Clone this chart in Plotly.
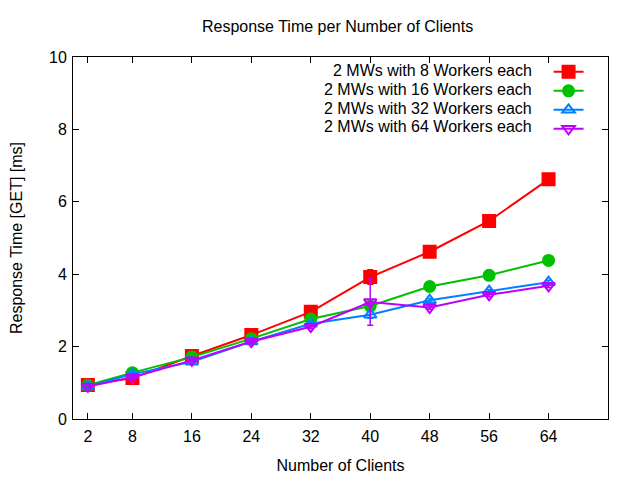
import plotly.graph_objects as go

# Number of clients on the x axis
clients = [2, 8, 16, 24, 32, 40, 48, 56, 64]

# Mean response time [ms] per configuration
mw8 = [0.94, 1.13, 1.74, 2.32, 2.96, 3.92, 4.62, 5.47, 6.62]
mw16 = [0.93, 1.28, 1.71, 2.22, 2.76, 3.12, 3.66, 3.97, 4.38]
mw32 = [0.90, 1.24, 1.58, 2.14, 2.63, 2.88, 3.28, 3.53, 3.78]
mw64 = [0.90, 1.15, 1.62, 2.14, 2.55, 3.23, 3.08, 3.43, 3.68]

# Standard deviations (error bars)
mw8_err = [0.03, 0.04, 0.04, 0.04, 0.05, 0.20, 0.05, 0.05, 0.05]
mw16_err = [0.03, 0.04, 0.04, 0.04, 0.05, 0.06, 0.05, 0.05, 0.05]
mw32_err = [0.03, 0.04, 0.04, 0.04, 0.05, 0.10, 0.05, 0.05, 0.05]
mw64_err = [0.03, 0.04, 0.04, 0.04, 0.05, 0.64, 0.05, 0.05, 0.05]

series_names = [
    "2 MWs with 8 Workers each",
    "2 MWs with 16 Workers each",
    "2 MWs with 32 Workers each",
    "2 MWs with 64 Workers each",
]

y_ticks = [0, 2, 4, 6, 8, 10]

FONT = "Liberation Sans, Arial, sans-serif"

styles = [
    ("#ff0000", "square", 12),
    ("#00c000", "circle", 11),
    ("#0080ff", "triangle-up-open", 11),
    ("#c000ff", "triangle-down-open", 11),
]

fig = go.Figure()

for ys, errs, (color, sym, size) in zip([mw8, mw16, mw32, mw64],
                                        [mw8_err, mw16_err, mw32_err, mw64_err],
                                        styles):
    fig.add_trace(go.Scatter(
        x=clients, y=ys,
        mode="lines+markers",
        name="",
        line=dict(color=color, width=2),
        marker=dict(symbol=sym, size=size, color=color,
                    line=dict(color=color, width=2)),
        error_y=dict(type="data", array=errs, visible=True,
                     color=color, thickness=1.5, width=3),
    ))

# key labels, right aligned left of the legend samples (gnuplot style)
row_y = [0.963, 0.911, 0.859, 0.807]
for name, yy in zip(series_names, row_y):
    fig.add_annotation(text=name, xref="paper", yref="paper",
                       x=0.862, y=yy, xanchor="right", yanchor="middle",
                       showarrow=False, font=dict(family=FONT, size=16, color="black"))

# page body has an 8px margin, so the figure is 8px smaller than the window
fig.update_layout(
    width=632, height=472,
    margin=dict(l=65, r=32, t=49, b=61),
    paper_bgcolor="white", plot_bgcolor="white",
    font=dict(family=FONT, size=16, color="black"),
    title=dict(text="Response Time per Number of Clients",
               x=0.5215, xanchor="center", y=0.96, yanchor="middle",
               font=dict(family=FONT, size=16)),
    showlegend=True,
    legend=dict(x=0.973, xanchor="right", y=0.999, yanchor="top",
                bgcolor="rgba(0,0,0,0)", tracegroupgap=0,
                font=dict(family=FONT, size=12), itemwidth=30),
)

fig.update_xaxes(
    range=[0, 72], tickvals=clients, ticktext=[str(c) for c in clients],
    showgrid=False, zeroline=False, showline=True, linecolor="black",
    linewidth=1, mirror="ticks", ticks="inside", ticklen=6, tickcolor="black",
    ticklabelstandoff=3, automargin=False,
    title=dict(text="Number of Clients", standoff=15, font=dict(family=FONT, size=16)),
)
fig.update_yaxes(
    range=[0, 10], tickvals=y_ticks,
    showgrid=False, zeroline=False, showline=True, linecolor="black",
    linewidth=1, mirror="ticks", ticks="inside", ticklen=6, tickcolor="black",
    ticklabelstandoff=2, automargin=False,
    title=dict(text="Response Time [GET] [ms]", standoff=25, font=dict(family=FONT, size=16)),
)

fig.write_html("out.html")
